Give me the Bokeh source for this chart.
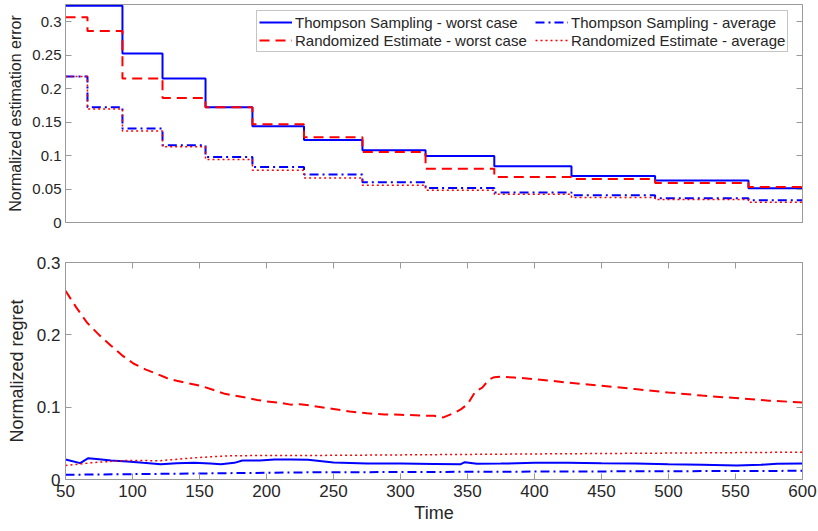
from bokeh.plotting import figure
from bokeh.layouts import column
from bokeh.models import Range1d, LinearAxis, FixedTicker, Legend, LegendItem
from bokeh.embed import file_html
from bokeh.resources import INLINE

# ---------------- data ----------------
# step change points (Time) for estimation error
step_edges = [50, 66.4, 92.5, 122.4, 154.5, 189.5, 228, 271.6, 318.7, 370, 427.6, 490, 559.7, 600]
ts_worst_err = [0.324, 0.324, 0.2527, 0.2153, 0.1724, 0.144, 0.1235, 0.1081, 0.0996, 0.0842, 0.0697, 0.0628, 0.0513]
re_worst_err = [0.307, 0.2865, 0.2153, 0.1863, 0.1724, 0.147, 0.1276, 0.1056, 0.0802, 0.0682, 0.0652, 0.0592, 0.0532]
ts_avg_err = [0.2183, 0.1724, 0.1406, 0.1156, 0.0981, 0.0831, 0.0718, 0.0603, 0.0517, 0.0449, 0.0408, 0.0363, 0.0333]
re_avg_err = [0.2183, 0.1699, 0.137, 0.1131, 0.0942, 0.0782, 0.0667, 0.0558, 0.0483, 0.0423, 0.0374, 0.0344, 0.0304]

# regret curves
re_worst_t = [50, 58, 66, 75, 84, 92, 101, 110, 118, 126, 133, 142, 151, 160, 168, 176, 185, 193, 200, 210,
              218, 225, 232, 241, 250, 262, 275, 288, 300, 315, 325, 332, 340, 345, 350, 356, 361, 366, 370,
              375, 385, 400, 425, 450, 475, 500, 525, 550, 575, 600]
re_worst_reg = [0.261, 0.238, 0.217, 0.200, 0.185, 0.172, 0.160, 0.152, 0.146, 0.140, 0.1365, 0.133, 0.1296,
                0.124, 0.119, 0.116, 0.113, 0.110, 0.108, 0.106, 0.1035, 0.104, 0.1025, 0.100, 0.0975, 0.094,
                0.0915, 0.090, 0.0895, 0.0885, 0.088, 0.0858, 0.092, 0.097, 0.104, 0.122, 0.127, 0.138, 0.1415,
                0.142, 0.141, 0.1388, 0.134, 0.1296, 0.125, 0.1203, 0.116, 0.1126, 0.109, 0.1065]

ts_worst_t = [50, 61, 67, 75, 84, 96, 108, 121, 133, 146, 158, 166, 176, 182, 195, 206, 218, 231, 250, 275,
              300, 325, 345, 348, 357, 375, 400, 425, 450, 475, 500, 525, 551, 569, 581, 600]
ts_worst_reg = [0.0277, 0.0226, 0.0295, 0.028, 0.0263, 0.0249, 0.023, 0.0212, 0.0225, 0.023, 0.022, 0.0212,
                0.023, 0.0263, 0.0263, 0.0277, 0.0275, 0.0272, 0.0235, 0.0221, 0.022, 0.0215, 0.0212, 0.024,
                0.0217, 0.022, 0.023, 0.0232, 0.0226, 0.0222, 0.0212, 0.0205, 0.0194, 0.0203, 0.0217, 0.0221]

re_avg_t = [50, 71, 96, 121, 146, 171, 196, 231, 300, 412, 500, 600]
re_avg_reg = [0.0194, 0.0235, 0.0263, 0.026, 0.030, 0.0327, 0.0332, 0.0332, 0.034, 0.0355, 0.0365, 0.0378]

ts_avg_t = [50, 121, 231, 412, 600]
ts_avg_reg = [0.0065, 0.0078, 0.0099, 0.011, 0.012]

x_ticks = [50, 100, 150, 200, 250, 300, 350, 400, 450, 500, 550, 600]
err_ticks = [0, 0.05, 0.1, 0.15, 0.2, 0.25, 0.3]
err_tick_labels = ["0", "0.05", "0.1", "0.15", "0.2", "0.25", "0.3"]
reg_ticks = [0, 0.1, 0.2, 0.3]
reg_tick_labels = ["0", "0.1", "0.2", "0.3"]

labels = ["Thompson Sampling - worst case", "Randomized Estimate - worst case",
          "Thompson Sampling - average", "Randomized Estimate - average"]

# ---------------- style ----------------
FONT = "Liberation Sans"
FRAME = "#9a9a9a"
TXT = "#262626"
BLUE = "#0000ff"
RED = "#ff0000"
LW = 2
NB = "\u00a0\u00a0"  # gap between legend columns


def style_axis(ax, size, ticks, tick_labels=None):
    ax.ticker = FixedTicker(ticks=ticks)
    ax.axis_line_color = FRAME
    ax.major_tick_line_color = FRAME
    ax.major_tick_in = 6
    ax.major_tick_out = 0
    ax.minor_tick_line_color = None
    ax.major_label_text_font = FONT
    ax.major_label_text_color = TXT
    ax.major_label_text_font_size = size
    if tick_labels is None:
        ax.major_label_overrides = {t: "" for t in ticks}
        ax.major_label_standoff = 0
    else:
        ax.major_label_overrides = dict(zip(ticks, tick_labels))
    ax.axis_label_text_font = FONT
    ax.axis_label_text_color = TXT
    ax.axis_label_text_font_style = "normal"


def steps(vals):
    return vals + [vals[-1]]


# ---------------- top figure ----------------
p1 = figure(width=818, height=232, output_backend="svg", toolbar_location=None,
            x_range=Range1d(50, 600), y_range=Range1d(0, 0.326),
            min_border_left=65, min_border_right=16, min_border_top=4, min_border_bottom=10)
p1.grid.visible = False
p1.outline_line_color = FRAME
p1.xaxis.visible = False
ya = p1.yaxis[0]
style_axis(ya, "15px", err_ticks, err_tick_labels)
ya.axis_label = "Normalized estimation error"
ya.axis_label_text_font_size = "16px"
ya.major_label_standoff = 4
ya.axis_label_standoff = 5
ra = LinearAxis()
style_axis(ra, "10px", err_ticks)
p1.add_layout(ra, "right")

r1 = p1.step(step_edges, steps(ts_worst_err), mode="after", line_color=BLUE, line_width=LW)
r2 = p1.step(step_edges, steps(re_worst_err), mode="after", line_color=RED, line_width=LW, line_dash="10 6")
r3 = p1.step(step_edges, steps(ts_avg_err), mode="after", line_color=BLUE, line_width=LW, line_dash="9 4 2 4")
r4 = p1.step(step_edges, steps(re_avg_err), mode="after", line_color=RED, line_width=1.5, line_dash="2 3")

legend = Legend(items=[LegendItem(label=labels[0], renderers=[r1]),
                       LegendItem(label=labels[1] + NB, renderers=[r2]),
                       LegendItem(label=labels[2], renderers=[r3]),
                       LegendItem(label=labels[3], renderers=[r4])],
                location=(191, 170), ncols=2)
legend.label_text_font = FONT
legend.label_text_font_size = "15px"
legend.label_text_color = TXT
legend.glyph_width = 33
legend.glyph_height = 18
legend.label_height = 18
legend.label_standoff = 3
legend.padding = 2
legend.spacing = 0
legend.margin = 0
legend.border_line_color = "#8c8c8c"
legend.border_line_width = 1
legend.background_fill_alpha = 1
p1.add_layout(legend, "center")

# ---------------- bottom figure ----------------
p2 = figure(width=818, height=299, output_backend="svg", toolbar_location=None,
            x_range=Range1d(50, 600), y_range=Range1d(0, 0.3),
            min_border_left=65, min_border_right=16, min_border_top=30, min_border_bottom=52)
p2.grid.visible = False
p2.outline_line_color = FRAME
xa = p2.xaxis[0]
style_axis(xa, "17px", x_ticks, [str(t) for t in x_ticks])
xa.axis_label = "Time"
xa.axis_label_text_font_size = "18px"
xa.major_label_standoff = 5
xa.axis_label_standoff = 3
ya2 = p2.yaxis[0]
style_axis(ya2, "17px", reg_ticks, reg_tick_labels)
ya2.axis_label = "Normalized regret"
ya2.axis_label_text_font_size = "18px"
ya2.major_label_standoff = 5
ya2.axis_label_standoff = 7
ta = LinearAxis()
style_axis(ta, "10px", x_ticks)
p2.add_layout(ta, "above")
ra2 = LinearAxis()
style_axis(ra2, "10px", reg_ticks)
p2.add_layout(ra2, "right")

p2.line(ts_worst_t, ts_worst_reg, line_color=BLUE, line_width=LW)
p2.line(re_worst_t, re_worst_reg, line_color=RED, line_width=LW, line_dash="10 6")
p2.line(ts_avg_t, ts_avg_reg, line_color=BLUE, line_width=LW, line_dash="9 4 2 4")
p2.line(re_avg_t, re_avg_reg, line_color=RED, line_width=1.5, line_dash="2 3")

layout = column(p1, p2, spacing=0)
open("out.html", "w").write(file_html(layout, INLINE))
